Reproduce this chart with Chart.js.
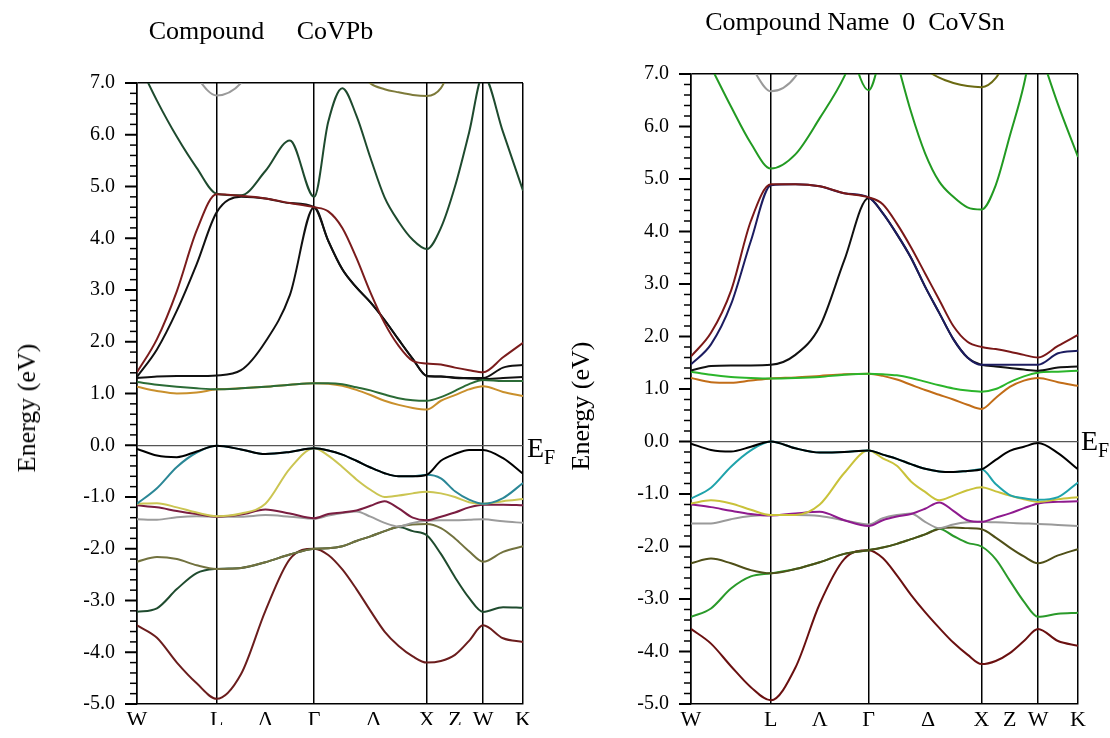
<!DOCTYPE html>
<html>
<head>
<meta charset="utf-8">
<script src="https://cdn.jsdelivr.net/npm/chart.js@4.4.1/dist/chart.umd.min.js"></script>
<style>
  html, body { margin: 0; padding: 0; background: #fff; }
  #page { position: relative; width: 1110px; height: 738px; overflow: hidden;
          font-family: 'Liberation Serif', 'Times New Roman', serif; color: #000; }
  canvas { position: absolute; top: 0; }
  .title { position: absolute; font-size: 26px; line-height: 1; white-space: pre; text-align: center; }
  .ylab { position: absolute; font-size: 26px; line-height: 1; white-space: nowrap;
          transform: translate(-50%, -50%) rotate(-90deg); }
  .ef { position: absolute; font-size: 28px; line-height: 1; white-space: nowrap; }
  .ef sub { font-size: 20px; vertical-align: -7px; line-height: 1; }
</style>
</head>
<body>
<div id="page">
  <canvas id="pb" width="555" height="738" style="left:0"></canvas>
  <canvas id="sn" width="555" height="738" style="left:555px"></canvas>
  <div class="title" style="left:0; width:522px; top:18px;">Compound     CoVPb</div>
  <div class="title" style="left:655px; width:400px; top:9px;">Compound Name  0  CoVSn</div>
  <div class="ylab" style="left:27px; top:408px;">Energy (eV)</div>
  <div class="ylab" style="left:581px; top:406px;">Energy (eV)</div>
  <div class="ef" style="left:527px; top:434px;">E<sub>F</sub></div>
  <div class="ef" style="left:1081px; top:427px;">E<sub>F</sub></div>
</div>
<script>
// k-path sample points (W-L-Γ-X-W-K)
const kPath = [0, 0.177, 0.354, 0.530, 0.707, 0.924, 1.140, 1.357, 1.573,
  1.698, 1.823, 1.948, 2.073, 2.198, 2.323, 2.448, 2.573,
  2.698, 2.823, 2.948, 3.073, 3.250, 3.427];
const kTickPos = [0, 0.707, 1.140, 1.573, 2.1, 2.573, 2.823, 3.073, 3.427];
const kTickLabels = ['W', 'L', 'Λ', 'Γ', 'Δ', 'X', 'Z', 'W', 'K'];
const midLabels = ['Λ', 'Δ', 'Z'];

// CoVPb bands (eV)
const pbBlack = [-0.07,-0.2,-0.23,-0.12,-0.01,-0.08,-0.17,-0.13,-0.06,-0.1,-0.18,-0.3,-0.43,-0.54,-0.6,-0.6,-0.57,-0.3,-0.17,-0.09,-0.09,-0.25,-0.55];
const pbCyan = [-1.13,-0.83,-0.42,-0.14,-0.01,-0.08,-0.17,-0.13,-0.06,-0.1,-0.18,-0.3,-0.43,-0.54,-0.6,-0.6,-0.57,-0.64,-0.89,-1.05,-1.13,-1.02,-0.73];
const pbYellow = [-1.13,-1.12,-1.2,-1.3,-1.37,-1.32,-1.13,-0.45,-0.06,-0.2,-0.42,-0.66,-0.86,-1.0,-0.97,-0.93,-0.9,-0.93,-1.0,-1.1,-1.13,-1.08,-1.04];
const pbPurple = [-1.16,-1.2,-1.27,-1.33,-1.38,-1.34,-1.24,-1.32,-1.41,-1.33,-1.3,-1.26,-1.17,-1.08,-1.22,-1.4,-1.45,-1.38,-1.3,-1.2,-1.15,-1.15,-1.16];
const pbGray = [-1.43,-1.44,-1.39,-1.37,-1.38,-1.38,-1.35,-1.38,-1.42,-1.36,-1.31,-1.28,-1.38,-1.5,-1.57,-1.5,-1.46,-1.45,-1.45,-1.44,-1.43,-1.47,-1.5];
const pbOlive = [-2.25,-2.16,-2.2,-2.32,-2.39,-2.37,-2.26,-2.11,-2.0,-1.99,-1.95,-1.85,-1.76,-1.66,-1.57,-1.53,-1.52,-1.6,-1.8,-2.05,-2.25,-2.06,-1.95];
const pbDarkGreen = [-3.22,-3.15,-2.78,-2.47,-2.39,-2.37,-2.26,-2.11,-2.0,-1.99,-1.95,-1.85,-1.76,-1.66,-1.58,-1.66,-1.74,-2.1,-2.55,-2.95,-3.22,-3.13,-3.14];
const pbMaroonLow = [-3.48,-3.72,-4.2,-4.6,-4.9,-4.42,-3.2,-2.2,-2.0,-2.12,-2.4,-2.78,-3.2,-3.6,-3.88,-4.08,-4.2,-4.17,-4.05,-3.78,-3.48,-3.73,-3.8];
const pbOrange = [1.13,1.05,1.0,1.02,1.08,1.1,1.13,1.17,1.2,1.19,1.15,1.07,0.97,0.86,0.78,0.72,0.69,0.86,0.97,1.08,1.14,1.03,0.95];
const pbGreenMid = [1.22,1.17,1.13,1.1,1.08,1.1,1.13,1.17,1.2,1.2,1.18,1.12,1.06,0.98,0.91,0.87,0.86,0.93,1.05,1.18,1.26,1.24,1.24];
const pbBlack1 = [1.3,1.33,1.34,1.34,1.35,1.45,2.0,2.9,4.6,3.95,3.4,3.05,2.76,2.42,2.04,1.67,1.34,1.33,1.3,1.29,1.28,1.3,1.32];
const pbBlack2 = [1.32,1.85,2.6,3.5,4.5,4.8,4.77,4.68,4.6,3.95,3.4,3.05,2.76,2.42,2.04,1.67,1.34,1.33,1.31,1.3,1.3,1.5,1.55];
const pbRed = [1.41,2.05,2.98,4.15,4.85,4.82,4.77,4.68,4.6,4.52,4.2,3.62,2.95,2.36,1.92,1.63,1.58,1.56,1.5,1.45,1.41,1.7,1.98];
const pbGreenTop = [7.45,6.66,5.96,5.36,4.86,4.83,5.3,5.89,4.8,6.25,6.9,6.37,5.55,4.79,4.32,3.97,3.79,4.2,5.0,6.04,7.15,6.05,4.92];
const pbGrayTop = [null,null,7.8,7.12,6.76,7.0,7.8,null,null,null,null,null,null,null,null,null,null,null,null,null,null,null,null];
const pbOliveTop = [null,null,null,null,null,null,null,null,null,null,null,7.3,6.99,6.88,6.82,6.77,6.75,6.9,7.5,null,null,null,null];

// CoVSn bands (eV)
const snBlack = [-0.04,-0.16,-0.19,-0.1,0.0,-0.13,-0.21,-0.2,-0.17,-0.25,-0.33,-0.43,-0.52,-0.57,-0.58,-0.56,-0.53,-0.35,-0.18,-0.1,-0.03,-0.22,-0.53];
const snCyan = [-1.09,-0.88,-0.48,-0.17,0.0,-0.13,-0.21,-0.2,-0.17,-0.25,-0.33,-0.43,-0.52,-0.57,-0.58,-0.56,-0.53,-0.81,-1.02,-1.08,-1.11,-1.06,-0.78];
const snYellow = [-1.18,-1.12,-1.18,-1.3,-1.4,-1.4,-1.2,-0.6,-0.17,-0.32,-0.46,-0.76,-0.96,-1.12,-1.03,-0.93,-0.87,-0.95,-1.03,-1.1,-1.15,-1.1,-1.06];
const snPurple = [-1.2,-1.25,-1.32,-1.38,-1.41,-1.37,-1.34,-1.5,-1.61,-1.5,-1.43,-1.38,-1.28,-1.16,-1.32,-1.5,-1.53,-1.45,-1.37,-1.27,-1.18,-1.15,-1.14];
const snGray = [-1.56,-1.56,-1.48,-1.42,-1.4,-1.4,-1.42,-1.5,-1.58,-1.46,-1.4,-1.37,-1.53,-1.65,-1.58,-1.54,-1.53,-1.54,-1.55,-1.56,-1.57,-1.59,-1.61];
const snOlive = [-2.32,-2.23,-2.32,-2.45,-2.51,-2.43,-2.3,-2.14,-2.07,-2.02,-1.95,-1.86,-1.77,-1.66,-1.64,-1.65,-1.67,-1.83,-2.02,-2.19,-2.32,-2.17,-2.05];
const snGreen = [-3.34,-3.18,-2.8,-2.57,-2.51,-2.43,-2.3,-2.14,-2.07,-2.02,-1.95,-1.86,-1.77,-1.66,-1.8,-1.93,-2.0,-2.24,-2.65,-3.05,-3.34,-3.28,-3.26];
const snMaroonLow = [-3.57,-3.85,-4.28,-4.68,-4.93,-4.31,-3.09,-2.24,-2.07,-2.22,-2.55,-2.92,-3.25,-3.55,-3.83,-4.06,-4.24,-4.18,-4.03,-3.8,-3.57,-3.8,-3.89];
const snOrange = [1.21,1.13,1.12,1.16,1.2,1.22,1.25,1.28,1.29,1.25,1.18,1.08,0.98,0.89,0.8,0.7,0.62,0.83,1.04,1.16,1.21,1.13,1.06];
const snGreenMid = [1.33,1.27,1.23,1.21,1.2,1.21,1.23,1.27,1.29,1.28,1.26,1.21,1.14,1.07,1.01,0.97,0.95,1.0,1.13,1.24,1.31,1.33,1.35];
const snBlack1 = [1.35,1.44,1.45,1.45,1.46,1.65,2.19,3.45,4.64,4.35,3.95,3.5,2.95,2.45,1.95,1.6,1.46,1.43,1.4,1.37,1.35,1.41,1.43];
const snNavy = [1.47,1.85,2.61,3.82,4.88,4.9,4.86,4.73,4.65,4.35,3.95,3.5,2.95,2.45,1.95,1.6,1.46,1.46,1.46,1.46,1.46,1.68,1.73];
const snMaroonTop = [1.62,2.07,2.87,4.2,4.9,4.9,4.86,4.73,4.65,4.52,4.15,3.7,3.2,2.7,2.2,1.9,1.8,1.76,1.71,1.65,1.6,1.82,2.03];
const snGreenTop = [7.85,7.13,6.38,5.68,5.2,5.47,6.16,6.95,8.1,null,null,null,null,null,null,null,null,null,null,null,null,null,null];
const snGreenGamma = [null,null,null,null,null,null,null,7.9,6.69,7.5,null,null,null,null,null,null,null,null,null,null,null,null,null];
const snGreenX = [null,null,null,null,null,null,null,null,null,null,7.25,6.28,5.49,4.95,4.66,4.46,4.42,4.88,5.82,6.8,8.2,null,null];
const snGreenK = [null,null,null,null,null,null,null,null,null,null,null,null,null,null,null,null,null,null,null,null,7.55,6.42,5.42];
const snGrayTop = [null,null,null,7.15,6.67,6.95,7.9,null,null,null,null,null,null,null,null,null,null,null,null,null,null,null,null];
const snOliveTop = [null,null,null,null,null,null,null,null,null,null,null,7.4,7.1,6.93,6.83,6.77,6.75,6.92,7.4,null,null,null,null];

Chart.defaults.font.family = "'Liberation Serif', 'Times New Roman', serif";
Chart.defaults.color = '#000';

// major / minor ticks on the energy axis
const energyTicks = {
  id: 'energyTicks',
  afterDraw(chart) {
    const y = chart.scales.y;
    const left = chart.chartArea.left;
    const ctx = chart.ctx;
    ctx.save();
    ctx.strokeStyle = '#000';
    for (let i = 0; i <= 60; i++) {
      const major = i % 5 === 0;
      const py = y.getPixelForValue(-5 + i * 0.2);
      ctx.lineWidth = major ? 2 : 1.5;
      ctx.beginPath();
      ctx.moveTo(left - (major ? 12 : 7), py);
      ctx.lineTo(left, py);
      ctx.stroke();
    }
    ctx.restore();
  }
};

function makeChart(id, bands, g) {
  const datasets = bands.map(([vals, color]) => ({
    data: kPath.map((k, i) => ({ x: k, y: vals[i] })),
    borderColor: color,
    borderWidth: 2,
    pointRadius: 0,
    fill: false,
    cubicInterpolationMode: 'monotone'
  }));

  return new Chart(document.getElementById(id), {
    type: 'line',
    data: { datasets: datasets },
    options: {
      responsive: false,
      animation: false,
      devicePixelRatio: 1,
      layout: { padding: { top: g.top, right: 32, left: 0, bottom: 0 } },
      plugins: { legend: { display: false }, tooltip: { enabled: false } },
      scales: {
        x: {
          type: 'linear',
          min: 0,
          max: 3.427,
          afterBuildTicks: s => { s.ticks = kTickPos.map(v => ({ value: v })); },
          afterFit: s => { s.height = g.xh; },
          ticks: {
            autoSkip: false,
            maxRotation: 0,
            padding: 3,
            font: { size: 22 },
            callback: (v, i) => kTickLabels[i]
          },
          grid: {
            drawTicks: false,
            lineWidth: 1.5,
            color: c => midLabels.includes(kTickLabels[c.index]) ? 'rgba(0,0,0,0)' : '#000'
          },
          border: { color: '#000', width: 1.5 }
        },
        y: {
          min: -5,
          max: 7,
          afterFit: s => { s.width = g.yw; },
          ticks: {
            stepSize: 1,
            padding: 22,
            font: { size: 20 },
            callback: v => v.toFixed(1)
          },
          grid: {
            drawTicks: false,
            lineWidth: c => c.tick.value === 0 ? 1.2 : 1.5,
            color: c => c.tick.value === 0 ? '#555' : (c.tick.value === 7 ? '#000' : 'rgba(0,0,0,0)')
          },
          border: { color: '#000', width: 1.5 }
        }
      }
    },
    plugins: [energyTicks]
  });
}

makeChart('pb', [
  [pbBlack, '#000000'],
  [pbRed, '#7a1c1c'],
  [pbGreenMid, '#2b6b36'],
  [pbCyan, '#2b8796'],
  [pbYellow, '#cbc552'],
  [pbPurple, '#7a1d40'],
  [pbGray, '#9c9c9c'],
  [pbOlive, '#72723f'],
  [pbDarkGreen, '#1f4b2e'],
  [pbMaroonLow, '#6b1d1d'],
  [pbOrange, '#c9902c'],
  [pbBlack1, '#111111'],
  [pbBlack2, '#111111'],
  [pbGreenTop, '#1e4a2e'],
  [pbGrayTop, '#9a9a9a'],
  [pbOliveTop, '#7d7a3a']
], { top: 83, yw: 137, xh: 21 });

makeChart('sn', [
  [snBlack, '#000000'],
  [snCyan, '#1fa3ab'],
  [snYellow, '#c9c23a'],
  [snPurple, '#8e1a8e'],
  [snGray, '#9a9a9a'],
  [snOlive, '#4f4f18'],
  [snGreen, '#2a9a2a'],
  [snMaroonLow, '#6a1010'],
  [snMaroonTop, '#7a1818'],
  [snNavy, '#1c1c60'],
  [snBlack1, '#111111'],
  [snGreenMid, '#2bb52b'],
  [snOrange, '#c26d18'],
  [snGreenTop, '#229a22'],
  [snGreenGamma, '#229a22'],
  [snGreenX, '#229a22'],
  [snGreenK, '#229a22'],
  [snGrayTop, '#9a9a9a'],
  [snOliveTop, '#6b6a12']
], { top: 74, yw: 136, xh: 25 });
</script>
</body>
</html>
